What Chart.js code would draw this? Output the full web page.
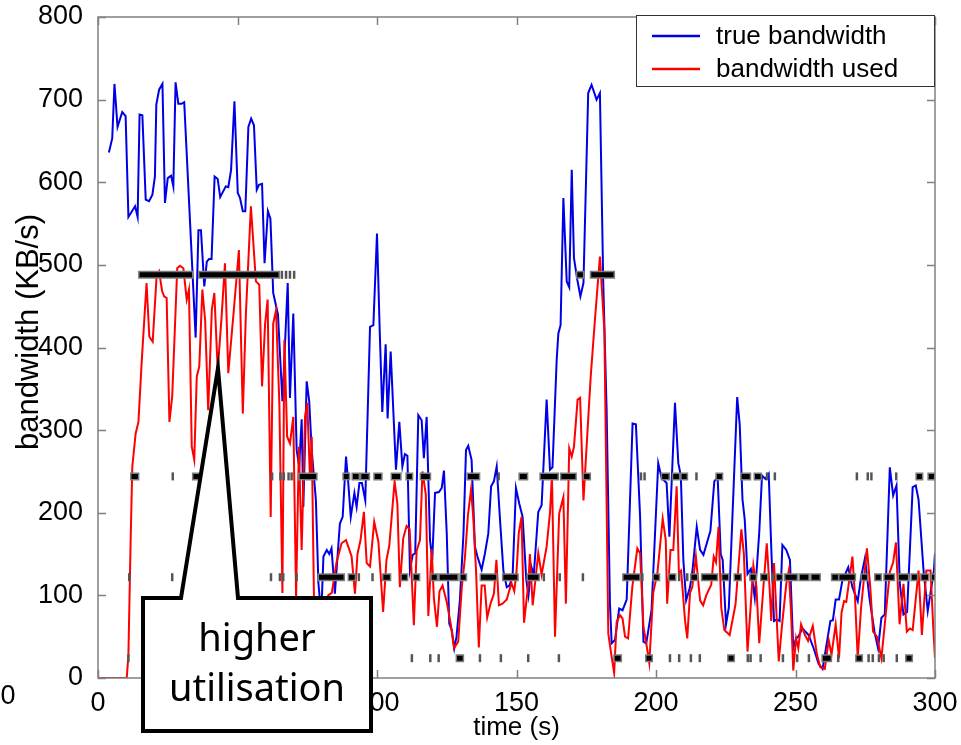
<!DOCTYPE html>
<html>
<head>
<meta charset="utf-8">
<script src="https://cdn.jsdelivr.net/npm/chart.js@4.4.1/dist/chart.umd.min.js"></script>
<style>
	html, body { margin: 0; padding: 0; background: #fff; }
</style>
</head>
<body>
<canvas id="chart" width="961" height="745"></canvas>
<script>
const xTicks = [0, 50, 100, 150, 200, 250, 300];
const yTicks = [0, 100, 200, 300, 400, 500, 600, 700, 800];

const trueTime = [3.9, 5.1, 5.9, 7.0, 8.7, 9.9, 10.9, 13.3, 14.2, 14.9, 15.9, 17.1, 18.3, 19.5, 20.4, 20.9, 21.9, 23.1, 24.0, 25.0, 26.2, 27.0, 27.8, 28.8, 29.9, 30.9, 35.0, 36.0, 36.9, 38.1, 39.0, 39.8, 40.7, 41.8, 42.9, 43.8, 45.8, 46.7, 47.7, 48.9, 50.1, 50.9, 51.9, 52.8, 53.9, 54.9, 55.9, 56.9, 57.7, 58.8, 59.7, 60.9, 61.8, 62.8, 64.5, 66.1, 68.0, 68.8, 70.0, 71.2, 72.1, 73.0, 73.6, 74.8, 75.7, 76.6, 78.1, 79.0, 80.0, 80.8, 82.0, 82.9, 83.7, 84.9, 86.7, 87.7, 88.9, 89.7, 90.6, 91.9, 92.7, 93.7, 94.6, 95.8, 97.5, 98.7, 100.0, 101.0, 101.9, 103.1, 103.8, 104.9, 106.8, 108.0, 109.1, 110.0, 110.9, 111.8, 112.8, 113.7, 114.8, 116.0, 116.8, 117.8, 119.0, 119.8, 120.8, 122.2, 123.2, 124.0, 125.0, 125.9, 126.8, 127.7, 128.5, 129.7, 131.0, 131.9, 132.7, 133.9, 135.1, 136.0, 137.5, 138.7, 139.9, 140.9, 141.9, 142.9, 144.1, 145.3, 146.5, 147.5, 148.6, 149.8, 151.0, 152.2, 153.5, 154.3, 155.3, 156.2, 157.8, 159.0, 160.8, 162.0, 162.9, 164.4, 165.0, 165.8, 166.8, 168.0, 168.9, 169.8, 170.6, 171.8, 172.9, 174.0, 175.7, 176.9, 178.7, 179.9, 181.1, 182.3, 183.5, 184.1, 185.3, 186.8, 188.0, 189.5, 191.6, 192.8, 194.3, 195.5, 196.5, 198.4, 200.8, 202.0, 203.8, 204.8, 206.8, 208.0, 208.9, 209.8, 210.8, 212.2, 213.1, 214.6, 215.8, 217.0, 219.5, 220.9, 222.1, 223.2, 223.9, 225.1, 226.1, 229.1, 230.0, 231.0, 231.8, 232.8, 234.0, 235.4, 237.0, 238.0, 239.2, 240.4, 241.3, 242.3, 243.3, 244.3, 245.3, 246.7, 248.0, 249.2, 250.2, 251.0, 252.5, 254.7, 256.5, 258.3, 259.7, 261.3, 262.5, 263.4, 264.4, 265.6, 266.8, 268.9, 270.4, 272.3, 273.5, 274.9, 276.5, 278.3, 279.6, 280.8, 282.0, 283.8, 285.0, 286.2, 287.4, 288.7, 290.0, 292.0, 293.1, 294.1, 295.9, 297.4, 299.6, 300.0];
const trueBw = [636, 653, 719, 667, 685, 680, 558, 571, 558, 682, 681, 579, 577, 585, 607, 694, 712, 719, 575, 605, 608, 595, 721, 695, 695, 697, 412, 542, 542, 474, 504, 507, 507, 607, 604, 582, 595, 594, 615, 698, 587, 581, 565, 565, 667, 677, 669, 591, 597, 598, 502, 565, 556, 466, 440, 335, 478, 339, 441, 276, 256, 313, 207, 359, 335, 276, 215, 115, 75, 147, 155, 150, 157, 102, 187, 195, 268, 236, 195, 224, 207, 236, 236, 215, 425, 427, 538, 417, 322, 404, 314, 395, 252, 310, 256, 271, 269, 131, 149, 151, 318, 312, 266, 316, 167, 143, 224, 225, 230, 251, 175, 66, 58, 36, 50, 94, 175, 276, 281, 264, 159, 147, 131, 151, 175, 232, 238, 256, 191, 130, 110, 112, 123, 230, 211, 195, 119, 100, 135, 125, 201, 209, 337, 252, 255, 385, 417, 427, 581, 480, 473, 615, 508, 482, 462, 478, 708, 718, 700, 708, 478, 324, 90, 42, 46, 84, 82, 95, 308, 307, 195, 44, 42, 82, 260, 242, 236, 171, 333, 260, 245, 143, 94, 110, 131, 183, 155, 149, 178, 238, 243, 150, 143, 65, 85, 340, 307, 216, 192, 126, 132, 97, 176, 245, 241, 247, 159, 69, 71, 69, 161, 155, 143, 36, 48, 50, 60, 52, 36, 17, 11, 44, 69, 70, 95, 95, 118, 134, 110, 93, 122, 145, 97, 56, 36, 73, 77, 255, 221, 233, 114, 77, 80, 231, 233, 216, 130, 81, 130, 151];

const usedTime = [0, 10.3, 10.9, 11.7, 12.3, 13.5, 14.5, 15.7, 17.4, 18.4, 19.6, 21.0, 21.9, 23.0, 23.7, 24.6, 25.6, 26.6, 28.4, 29.4, 30.6, 31.8, 32.6, 33.6, 34.5, 35.4, 36.3, 37.4, 38.4, 39.5, 40.8, 41.7, 42.9, 44.3, 45.5, 46.7, 48.7, 50.5, 51.9, 53.0, 54.8, 56.6, 57.8, 58.8, 59.9, 60.8, 61.9, 62.8, 63.8, 65.0, 66.1, 66.8, 67.8, 68.8, 70.0, 71.0, 72.0, 73.0, 74.2, 75.0, 76.0, 76.6, 77.4, 78.5, 79.5, 80.5, 81.5, 82.5, 83.8, 85.5, 87.3, 88.9, 89.7, 90.9, 92.1, 93.0, 94.1, 95.3, 96.3, 97.5, 99.0, 100.5, 102.2, 103.4, 104.4, 106.3, 107.3, 108.2, 109.4, 110.6, 111.7, 113.2, 114.2, 115.4, 116.3, 117.5, 118.4, 119.6, 120.4, 121.5, 122.4, 123.5, 125.0, 126.4, 127.6, 129.1, 130.4, 131.5, 132.6, 133.7, 134.5, 135.5, 136.5, 137.5, 138.6, 139.5, 140.7, 141.9, 142.8, 143.7, 145.0, 146.5, 148.2, 149.2, 150.0, 150.8, 151.8, 152.7, 154.3, 154.8, 155.8, 157.8, 159.0, 160.8, 162.0, 162.7, 163.8, 165.3, 166.8, 167.7, 168.9, 169.8, 170.6, 171.9, 172.8, 174.0, 175.4, 176.6, 178.1, 179.9, 181.5, 182.9, 183.9, 185.0, 185.9, 187.1, 188.0, 188.9, 190.0, 191.5, 193.3, 194.3, 195.5, 196.7, 197.6, 199.0, 200.5, 202.4, 203.5, 204.0, 205.2, 206.2, 207.4, 208.2, 209.0, 210.4, 211.2, 212.2, 213.0, 214.3, 215.8, 216.9, 218.0, 219.8, 220.7, 221.5, 222.4, 223.4, 224.5, 226.4, 228.5, 230.6, 231.5, 232.8, 234.0, 234.9, 236.0, 237.0, 238.5, 239.7, 240.7, 241.3, 242.3, 244.0, 245.2, 246.7, 247.6, 248.4, 249.2, 250.2, 251.0, 252.0, 253.4, 254.5, 256.2, 257.7, 258.9, 260.5, 261.9, 262.9, 264.4, 265.6, 266.5, 267.4, 268.2, 270.4, 271.3, 272.3, 273.5, 275.6, 276.8, 277.8, 279.2, 280.8, 282.0, 283.8, 285.0, 286.0, 287.3, 288.7, 289.9, 291.0, 292.0, 294.1, 295.3, 296.9, 298.4, 299.4, 300.0];
const usedBw = [0, 0, 28, 167, 256, 296, 310, 385, 478, 413, 407, 486, 492, 468, 462, 460, 310, 341, 496, 499, 496, 458, 470, 280, 264, 365, 377, 470, 433, 324, 446, 466, 373, 437, 502, 369, 446, 518, 320, 440, 571, 480, 476, 353, 429, 458, 195, 429, 445, 333, 103, 409, 292, 284, 316, 98, 280, 155, 316, 333, 240, 292, 98, 60, 40, 95, 70, 100, 103, 140, 163, 167, 159, 147, 102, 150, 167, 201, 139, 135, 189, 165, 80, 143, 160, 238, 211, 110, 169, 184, 180, 64, 154, 167, 250, 222, 75, 156, 96, 62, 105, 112, 92, 66, 36, 44, 110, 145, 197, 228, 195, 130, 37, 112, 112, 73, 90, 102, 143, 88, 90, 95, 115, 105, 128, 175, 195, 67, 116, 150, 88, 151, 125, 159, 200, 245, 50, 199, 219, 90, 278, 268, 280, 337, 339, 215, 296, 365, 433, 510, 420, 54, 30, 6, 68, 76, 72, 50, 48, 110, 157, 151, 62, 38, 18, 103, 127, 193, 167, 90, 155, 155, 232, 127, 130, 70, 48, 103, 110, 147, 94, 88, 100, 113, 147, 140, 183, 85, 58, 52, 89, 180, 150, 32, 90, 136, 110, 42, 110, 163, 110, 69, 139, 20, 65, 114, 130, 80, 9, 48, 36, 65, 52, 45, 63, 28, 13, 11, 46, 28, 65, 24, 79, 93, 92, 147, 100, 24, 85, 157, 110, 56, 50, 24, 65, 128, 140, 164, 65, 114, 56, 60, 58, 130, 52, 130, 130, 60, 24];

// quality levels (KB/s) and the time spans each one was picked
const levels = [488, 244, 122, 24];
const runs488 = [[15.8, 32.8], [37.3, 63.8], [172.7, 172.9], [177.7, 183.9]];
const runs244 = [[12.9, 13.4], [35.1, 35.3], [73.2, 77.3], [89.0, 89.2], [92.3, 92.5], [95.3, 96.1], [100.1, 100.6], [106.3, 107.4], [111.6, 111.8], [116.7, 118.0], [133.5, 135.6], [152.1, 152.8], [159.6, 163.8], [167.0, 170.2], [175.1, 175.3], [203.1, 203.6], [207.1, 207.3], [210.1, 210.3], [222.7, 222.9], [231.6, 232.7], [236.4, 236.6], [294.4, 294.6], [298.7, 298.9]];
const runs122 = [[80.1, 87.1], [90.9, 91.1], [103.2, 103.7], [109.8, 110.0], [114.1, 114.3], [120.5, 120.6], [123.4, 127.9], [130.9, 131.1], [138.2, 141.8], [146.2, 149.4], [155.0, 157.0], [189.3, 193.1], [200.1, 200.3], [205.7, 205.9], [213.6, 213.8], [217.5, 220.9], [224.7, 224.9], [229.2, 229.4], [234.8, 235.0], [238.7, 238.9], [244.2, 244.4], [247.3, 249.5], [252.5, 253.7], [256.7, 257.7], [264.1, 264.3], [266.7, 270.3], [274.7, 274.9], [279.6, 279.8], [282.9, 284.3], [288.0, 289.4], [292.6, 292.8], [296.1, 296.6], [299.8, 300.0]];
const runs24 = [[129.6, 129.8], [186.1, 186.4], [197.5, 197.8], [226.9, 227.1], [260.7, 261.7], [272.8, 273.0], [290.7, 290.9]];
const ticks488 = [65.9, 67.4, 68.8, 70.3];
const ticks244 = [26.8, 62.4, 65.4, 66.6, 68.3, 69.4, 143.6, 194.6, 195.9, 214.5, 239.8, 242.6, 272.0, 275.9, 277.2, 286.1];
const ticks122 = [11.2, 26.6, 62.0, 65.2, 66.4, 71.2, 93.5, 98.4, 159.8, 165.5, 173.8, 195.1, 208.3, 211.2, 241.8];
const ticks24 = [10.9, 97.3, 112.5, 119.1, 122.1, 136.9, 144.4, 154.2, 165.2, 205.0, 208.3, 212.5, 215.7, 232.9, 233.9, 237.5, 245.5, 250.6, 254.8, 265.3, 276.2, 277.7, 279.9, 281.6, 286.3];

const FONT = "'Liberation Sans', Arial, Helvetica, sans-serif";

const toPoints = (xs, ys) => xs.map((x, i) => ({ x, y: ys[i] }));

const allRuns = [runs488, runs244, runs122, runs24];
const allTicks = [ticks488, ticks244, ticks122, ticks24];

const tickPoints = () => {
	const pts = [];
	allTicks.forEach((ts, k) => ts.forEach((t) => pts.push({ x: t, y: levels[k] })));
	return pts.sort((p, q) => p.x - q.x);
};

// each level is its own dataset so the null gaps split the runs
const barSets = [];
levels.forEach((lvl, k) => {
	const pts = [];
	allRuns[k].forEach(([a, b]) => pts.push({ x: a, y: lvl }, { x: b, y: lvl }, { x: b, y: null }));
	barSets.push({
		data: pts, borderColor: "#000", borderWidth: 5, borderCapStyle: "square",
		pointRadius: 0, fill: false, order: 0, spanGaps: false,
	});
	barSets.push({
		data: pts, borderColor: "#7c7c7c", borderWidth: 8, borderCapStyle: "square",
		pointRadius: 0, fill: false, order: 1, spanGaps: false,
	});
});

const frame = {
	id: "frame",
	afterDraw(chart) {
		const { ctx, chartArea: a, scales: { x, y } } = chart;
		ctx.save();
		ctx.strokeStyle = "#808080";
		ctx.lineWidth = 1.5;
		ctx.strokeRect(a.left, a.top, a.right - a.left, a.bottom - a.top);
		ctx.beginPath();
		xTicks.forEach((v) => {
			const px = Math.round(x.getPixelForValue(v)) + 0.5;
			ctx.moveTo(px, a.bottom); ctx.lineTo(px, a.bottom - 8);
			ctx.moveTo(px, a.top); ctx.lineTo(px, a.top + 8);
		});
		yTicks.forEach((v) => {
			const py = Math.round(y.getPixelForValue(v)) + 0.5;
			ctx.moveTo(a.left, py); ctx.lineTo(a.left + 8, py);
			ctx.moveTo(a.right, py); ctx.lineTo(a.right - 8, py);
		});
		ctx.stroke();

		// y axis title, set a little above the middle like the original
		ctx.save();
		ctx.translate(29, 332);
		ctx.rotate(-Math.PI / 2);
		ctx.fillStyle = "#000";
		ctx.font = "31px " + FONT;
		ctx.textAlign = "center";
		ctx.textBaseline = "middle";
		ctx.fillText("bandwidth (KB/s)", 0, 0);
		ctx.restore();

		// legend
		const lx = a.right - 299, ly = a.top - 2, lw = 298, lh = 71;
		ctx.fillStyle = "#fff";
		ctx.fillRect(lx, ly, lw, lh);
		ctx.strokeStyle = "#333";
		ctx.lineWidth = 1;
		ctx.strokeRect(lx + 0.5, ly + 0.5, lw, lh);
		const entries = [chart.data.datasets[barSets.length + 1], chart.data.datasets[barSets.length + 2]];
		ctx.font = "26px " + FONT;
		ctx.textBaseline = "middle";
		ctx.textAlign = "left";
		entries.forEach((ds, i) => {
			const ey = ly + 21 + i * 33;
			ctx.strokeStyle = ds.borderColor;
			ctx.lineWidth = 2.5;
			ctx.beginPath();
			ctx.moveTo(lx + 16, ey); ctx.lineTo(lx + 64, ey);
			ctx.stroke();
			ctx.fillStyle = "#000";
			ctx.fillText(ds.label, lx + 80, ey + 1);
		});

		// stray zero at the far left
		ctx.fillStyle = "#000";
		ctx.font = "27px " + FONT;
		ctx.textAlign = "center";
		ctx.fillText("0", 8, 697);

		// callout
		const tipX = x.getPixelForValue(43), tipY = y.getPixelForValue(375);
		const bl = 143, br = 371, bt = 598, bb = 731;
		ctx.beginPath();
		ctx.moveTo(bl, bt);
		ctx.lineTo(181, bt);
		ctx.lineTo(tipX, tipY);
		ctx.lineTo(238, bt);
		ctx.lineTo(br, bt);
		ctx.lineTo(br, bb);
		ctx.lineTo(bl, bb);
		ctx.closePath();
		ctx.fillStyle = "#fff";
		ctx.fill();
		ctx.strokeStyle = "#000";
		ctx.lineWidth = 4;
		ctx.lineJoin = "miter";
		ctx.stroke();
		ctx.fillStyle = "#000";
		ctx.font = "38px 'Noto Sans', sans-serif";
		ctx.textBaseline = "alphabetic";
		ctx.fillText("higher", (bl + br) / 2, 651);
		ctx.fillText("utilisation", (bl + br) / 2, 701);
		ctx.restore();
	},
};

new Chart(document.getElementById("chart"), {
	type: "line",
	data: {
		datasets: [
			...barSets,
			{
				data: tickPoints(), showLine: false, pointStyle: "line", rotation: 90,
				pointRadius: 4, borderColor: "#555", borderWidth: 2.5, order: 0,
			},
			{
				label: "true bandwidth", data: toPoints(trueTime, trueBw), borderColor: "#0000e6",
				borderWidth: 2, pointRadius: 0, tension: 0, order: 3,
			},
			{
				label: "bandwidth used", data: toPoints(usedTime, usedBw), borderColor: "#ff0000",
				borderWidth: 2, pointRadius: 0, tension: 0, order: 2,
			},
		],
	},
	options: {
		responsive: false,
		animation: false,
		events: [],
		layout: { padding: { left: 0, right: 26, top: 17, bottom: 0 } },
		plugins: { legend: { display: false }, tooltip: { enabled: false } },
		scales: {
			x: {
				type: "linear", min: 0, max: 300,
				afterBuildTicks: (s) => { s.ticks = xTicks.map((v) => ({ value: v })); },
				afterFit: (s) => { s.height = 67; s.paddingLeft = 0; s.paddingRight = 0; },
				grid: { display: false }, border: { display: false },
				ticks: { color: "#000", padding: 1, maxRotation: 0, autoSkip: false, font: { family: FONT, size: 27 } },
				title: { display: true, text: "time (s)", color: "#000", font: { family: FONT, size: 26 }, padding: { top: 0, bottom: 2 } },
			},
			y: {
				type: "linear", min: 0, max: 800,
				afterBuildTicks: (s) => { s.ticks = yTicks.map((v) => ({ value: v })); },
				afterFit: (s) => { s.width = 98; s.paddingTop = 0; s.paddingBottom = 0; },
				grid: { display: false }, border: { display: false },
				ticks: { color: "#000", padding: 7, autoSkip: false, font: { family: FONT, size: 27 } },
			},
		},
	},
	plugins: [frame],
});
</script>
</body>
</html>
